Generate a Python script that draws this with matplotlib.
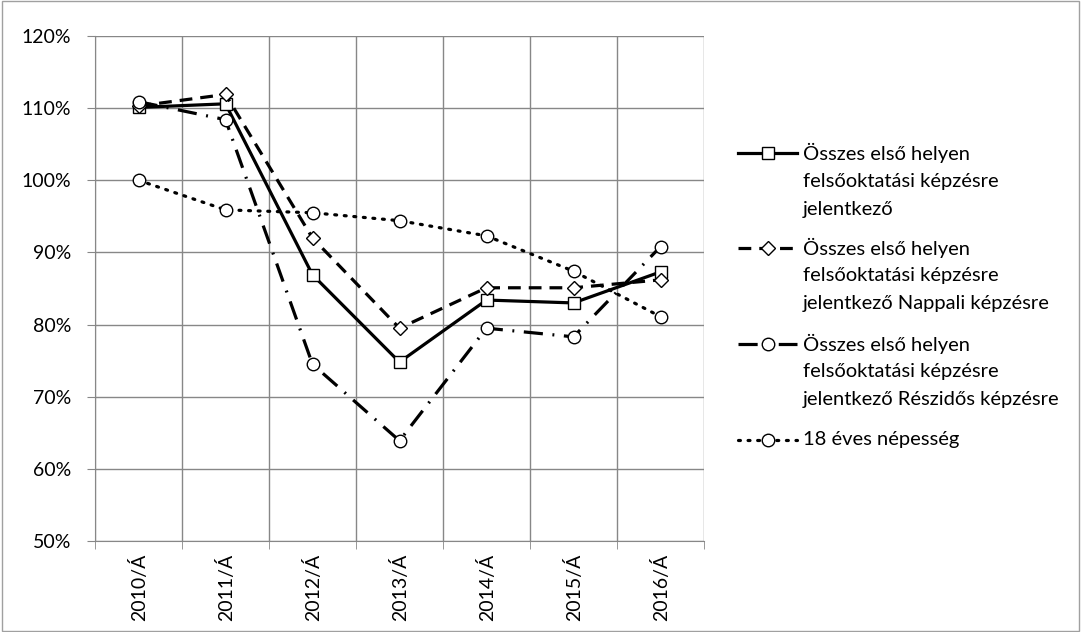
import numpy as np
import matplotlib
matplotlib.use('Agg')
import matplotlib.pyplot as plt
from matplotlib.patches import Rectangle
from matplotlib.ticker import FuncFormatter

plt.rcParams['font.family'] = ['Lato', 'DejaVu Sans']

years = ['2010/Á', '2011/Á', '2012/Á', '2013/Á', '2014/Á', '2015/Á', '2016/Á']
osszes = [110.1, 110.6, 86.9, 74.8, 83.4, 83.0, 87.3]
nappali = [110.3, 111.9, 92.0, 79.5, 85.1, 85.1, 86.2]
reszidos = [110.9, 108.4, 74.5, 63.9, 79.5, 78.3, 90.8]
nepesseg = [100.0, 95.9, 95.5, 94.4, 92.3, 87.4, 81.1]

labels = [
    'Összes első helyen\nfelsőoktatási képzésre\njelentkező',
    'Összes első helyen\nfelsőoktatási képzésre\njelentkező Nappali képzésre',
    'Összes első helyen\nfelsőoktatási képzésre\njelentkező Részidős képzésre',
    '18 éves népesség',
]

fig = plt.figure(figsize=(10.81, 6.32), dpi=100)
ax = fig.add_axes([95 / 1081, 1 - 541 / 632, 609 / 1081, 505 / 632])

x = np.arange(len(years))
grid_c = '#878787'
mk = dict(markersize=9, markerfacecolor='white', markeredgecolor='black', markeredgewidth=1.0)
styles = [
    dict(marker='s', ls='-', **mk),
    dict(marker='D', dashes=(4, 2.5), **dict(mk, markersize=7)),
    dict(marker='o', dashes=(6, 3, 0.6, 3), **mk),
    dict(marker='o', dashes=(0.6, 2.4), dash_capstyle='round', **mk),
]
series = [osszes, nappali, reszidos, nepesseg]

for vals, st in zip(series, styles):
    ax.plot(x, vals, color='black', lw=2.3, **st)

ax.set_xlim(-0.5, 6.5)
ax.set_ylim(50, 120)
ax.set_yticks(np.arange(50, 121, 10))
ax.yaxis.set_major_formatter(FuncFormatter(lambda v, p: f'{v:.0f}%'))
ax.set_xticks(x)
ax.set_xticklabels(years, rotation=90)
ax.set_xticks(np.arange(-0.5, 7, 1), minor=True)

ax.grid(axis='y', which='major', color=grid_c, lw=1)
ax.grid(axis='x', which='minor', color=grid_c, lw=1)
ax.tick_params(axis='x', which='major', length=0, labelsize=14, pad=9)
ax.tick_params(axis='x', which='minor', length=6, color=grid_c)
ax.tick_params(axis='y', length=6, color=grid_c, labelsize=14, pad=11)
for s in ['top', 'right']:
    ax.spines[s].set_visible(False)
for s in ['left', 'bottom']:
    ax.spines[s].set_color(grid_c)
ax.set_axisbelow(True)

# legend drawn by hand so the sample sits on the first text line
lax = fig.add_axes([0, 0, 1, 1], facecolor='none')
lax.set_xlim(0, 1081)
lax.set_ylim(632, 0)
lax.axis('off')
entry_y = [153, 248, 344, 440]
for ey, lab, st in zip(entry_y, labels, styles):
    lax.plot([738, 767.5, 797], [ey, ey, ey], color='black', lw=2.3,
             markevery=[1], **st)
    for i, line in enumerate(lab.split('\n')):
        lax.text(803, ey + i * 28, line, fontsize=14.5, va='center', ha='left')

fig.add_artist(Rectangle((0.002, 0.002), 0.996, 0.996, transform=fig.transFigure,
                         fill=False, edgecolor='#a0a0a0', lw=1))

fig.savefig('out.png', dpi=100)
